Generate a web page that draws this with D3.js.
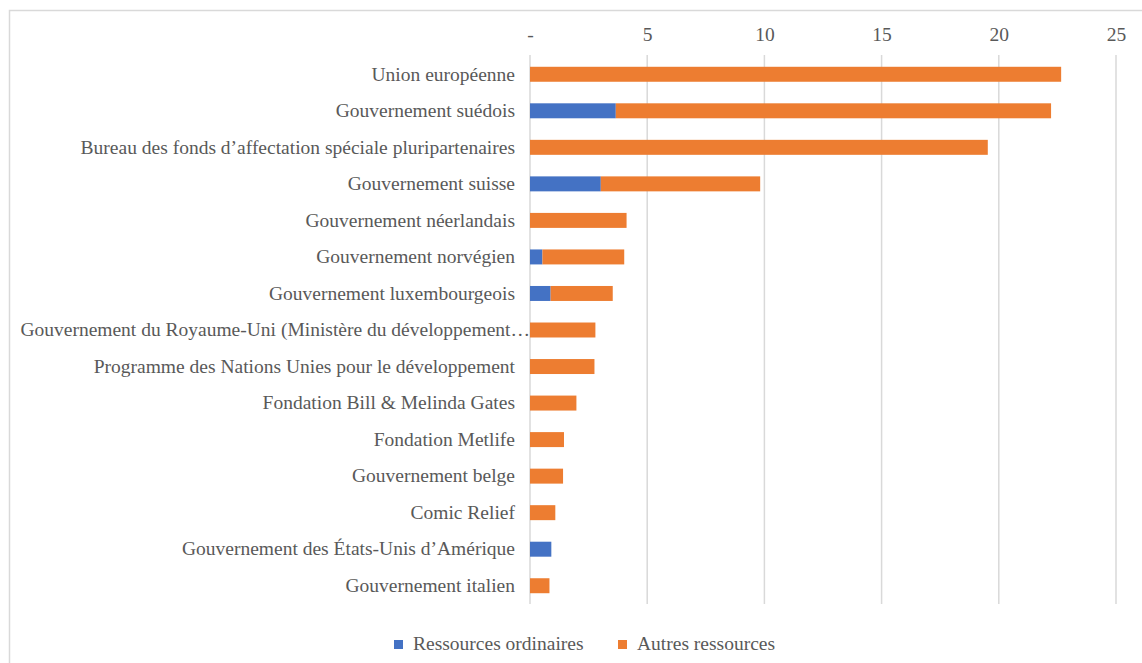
<!DOCTYPE html>
<html>
<head>
<meta charset="utf-8">
<script src="https://cdn.jsdelivr.net/npm/d3@7"></script>
<style>
  html, body { margin: 0; padding: 0; background: #fff; }
  svg { display: block; }
  text { font-family: "Liberation Serif", "Times New Roman", serif; fill: #595959; }
</style>
</head>
<body>
<svg id="chart" width="1142" height="663"></svg>
<script>
const categories = [
  "Union européenne",
  "Gouvernement suédois",
  "Bureau des fonds d’affectation spéciale pluripartenaires",
  "Gouvernement suisse",
  "Gouvernement néerlandais",
  "Gouvernement norvégien",
  "Gouvernement luxembourgeois",
  "Gouvernement du Royaume-Uni (Ministère du développement…",
  "Programme des Nations Unies pour le développement",
  "Fondation Bill & Melinda Gates",
  "Fondation Metlife",
  "Gouvernement belge",
  "Comic Relief",
  "Gouvernement des États-Unis d’Amérique",
  "Gouvernement italien"
];
const ressourcesOrdinaires = [0, 3.66, 0, 3.02, 0, 0.53, 0.88, 0, 0, 0, 0, 0, 0, 0.91, 0];
const autresRessources     = [22.66, 18.57, 19.53, 6.80, 4.12, 3.49, 2.65, 2.79, 2.75, 1.98, 1.45, 1.41, 1.08, 0, 0.83];
const seriesNames = ["Ressources ordinaires", "Autres ressources"];
const seriesColors = ["#4472C4", "#ED7D31"];
const tickValues = [0, 5, 10, 15, 20, 25];
const tickLabels = ["-", "5", "10", "15", "20", "25"];

const FS = 19.5;
const svg = d3.select("#chart");

// chart border
svg.append("rect")
  .attr("x", 9.5).attr("y", 10.5)
  .attr("width", 1200).attr("height", 700)
  .attr("fill", "none").attr("stroke", "#d9d9d9").attr("stroke-width", 1.5);

const x = d3.scaleLinear().domain([0, 25]).range([530, 1116]);
const y = d3.scaleBand().domain(categories).range([56, 604]).paddingInner(0.59).paddingOuter(0.295);

// gridlines
svg.append("g").selectAll("line").data(tickValues).join("line")
  .attr("x1", d => x(d)).attr("x2", d => x(d))
  .attr("y1", 55).attr("y2", 604)
  .attr("stroke", "#d9d9d9").attr("stroke-width", 1.5);

// top axis labels
const xAxis = d3.axisTop(x).tickValues(tickValues)
  .tickFormat((d, i) => tickLabels[i]).tickSize(0).tickPadding(0);
const gx = svg.append("g").attr("transform", "translate(0,41)").call(xAxis);
gx.select(".domain").remove();
gx.selectAll("text").attr("font-size", FS).attr("fill", "#595959")
  .attr("font-family", "Liberation Serif, Times New Roman, serif").attr("dy", 0);

// stacked data
const rows = categories.map((c, i) => ({ cat: c, a: ressourcesOrdinaires[i], b: autresRessources[i] }));
const stack = d3.stack().keys(["a", "b"])(rows);

svg.append("g").selectAll("g").data(stack).join("g")
  .attr("fill", (d, i) => seriesColors[i])
  .selectAll("rect").data(d => d).join("rect")
  .attr("x", d => x(d[0]))
  .attr("y", d => y(d.data.cat))
  .attr("width", d => Math.max(0, x(d[1]) - x(d[0])))
  .attr("height", y.bandwidth());

// category labels
const yAxis = d3.axisLeft(y).tickSize(0).tickPadding(15);
const gy = svg.append("g").attr("transform", "translate(530,0)").call(yAxis);
gy.select(".domain").remove();
gy.selectAll("text").attr("font-size", FS).attr("fill", "#595959")
  .attr("font-family", "Liberation Serif, Times New Roman, serif");
gy.selectAll(".tick text").filter(d => d.endsWith("…")).attr("dx", 15);

// legend
const legendItems = [
  { name: seriesNames[0], color: seriesColors[0], x: 394 },
  { name: seriesNames[1], color: seriesColors[1], x: 618 }
];
const lg = svg.append("g").selectAll("g").data(legendItems).join("g")
  .attr("transform", d => `translate(${d.x},640)`);
lg.append("rect").attr("width", 9).attr("height", 9).attr("fill", d => d.color);
lg.append("text").attr("x", 19).attr("y", 10).attr("font-size", FS).text(d => d.name);
</script>
</body>
</html>
